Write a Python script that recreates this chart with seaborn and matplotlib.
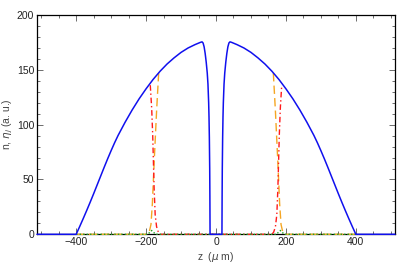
import matplotlib
matplotlib.use("Agg")
import matplotlib.pyplot as plt
import seaborn as sns
import pandas as pd
from matplotlib.ticker import MultipleLocator

# ---- data ----
z_n = [-512, -400, -390, -380, -370, -360, -350, -340, -330, -320, -310, -300, -290, -280,
       -260, -240, -220, -200, -180, -160, -140, -120, -100, -80, -60, -45, -40,
       -37, -34, -31, -28, -25, -23, -21, -20, -19, -18, -17.5, -17,
       17, 17.5, 18, 19, 20, 21, 23, 25, 28, 31, 34, 37,
       40, 45, 60, 80, 100, 120, 140, 160, 180, 200, 220, 240, 260,
       280, 290, 300, 310, 320, 330, 340, 350, 360, 370, 380, 390, 400, 512]
n_tot = [0, 0, 7, 14.2, 21.6, 29.2, 37, 45, 53, 61, 68.8, 76.3, 83.5, 90.2,
         102.2, 113.3, 123.5, 132.7, 141.2, 148.7, 155.3, 160.9, 165.9, 169.9, 173, 175, 175.5,
         174.5, 171, 165, 157, 147, 137, 120, 107, 88, 60, 35, 0,
         0, 35, 60, 88, 107, 120, 137, 147, 157, 165, 171, 174.5,
         175.5, 175, 173, 169.9, 165.9, 160.9, 155.3, 148.7, 141.2, 132.7, 123.5, 113.3, 102.2,
         90.2, 83.5, 76.3, 68.8, 61, 53, 45, 37, 29.2, 21.6, 14.2, 7, 0, 0]

z_red = [-188, -184, -181, -179, -177, -174, -170, -165, -160,
         160, 165, 170, 174, 177, 179, 181, 184, 188]
n_red = [136, 115, 90, 66, 42, 18, 7, 2, 0,
         0, 2, 7, 18, 42, 66, 90, 115, 136]

z_orange_left = [-400, -198, -191, -186, -182, -177, -170, -164]
n_orange_left = [0, 0, 2, 9, 28, 65, 112, 147]
z_orange_right = [164, 170, 177, 182, 186, 191, 198, 400]
n_orange_right = [147, 112, 65, 28, 9, 2, 0, 0]

z_green = [-400, -195, -189, -184, -179, -173, 173, 179, 184, 189, 195, 400]
n_green = [0, 0, 2, 3.5, 2, 0, 0, 2, 3.5, 2, 0, 0]

xticks = [-400, -200, 0, 200, 400]
yticks = [0, 50, 100, 150, 200]

# ---- figure ----
sns.set_style("ticks")
plt.rcParams['font.family'] = ['Liberation Sans', 'DejaVu Sans']
plt.rcParams['mathtext.fontset'] = 'dejavusans'

fig = plt.figure(figsize=(4.09, 2.63), dpi=100)
ax = fig.add_axes([37 / 409, 1 - 234.3 / 263, (395 - 37) / 409, (234.3 - 15) / 263])

df_o = pd.DataFrame({
    "z": z_orange_left + z_orange_right,
    "n": n_orange_left + n_orange_right,
    "part": ["L"] * len(z_orange_left) + ["R"] * len(z_orange_right),
})

sns.lineplot(data=df_o, x="z", y="n", units="part", estimator=None, sort=False, ax=ax,
             color="#f5a623", lw=1.0, linestyle=(0, (6, 3)), clip_on=False, zorder=3)
sns.lineplot(x=z_red, y=n_red, ax=ax, color="#ff1a1a", lw=1.0,
             linestyle=(0, (4, 2, 1, 2)), estimator=None, sort=False, clip_on=False, zorder=3)
sns.lineplot(x=z_green, y=n_green, ax=ax, color="#1fa31f", lw=1.0,
             linestyle=(0, (1, 1.5)), estimator=None, sort=False, clip_on=False, zorder=3.5)
sns.lineplot(x=z_n, y=n_tot, ax=ax, color="#1010ee", lw=1.1,
             estimator=None, sort=False, clip_on=False, zorder=4)

ax.set_xlim(-512, 512)
ax.set_ylim(0, 200)
ax.set_xticks(xticks)
ax.set_yticks(yticks)
ax.set_xticklabels(["\u2212400", "\u2212200", "0", "200", "400"])
ax.xaxis.set_minor_locator(MultipleLocator(50))
ax.yaxis.set_minor_locator(MultipleLocator(10))
ax.tick_params(which="both", direction="in", top=True, right=True,
               labelsize=7.5, labelcolor="#222222", color="#555555", width=0.6, pad=2)
ax.tick_params(which="major", length=4)
ax.tick_params(which="minor", length=2)
for s in ax.spines.values():
    s.set_linewidth(0.9)
    s.set_color("black")

ax.set_xlabel(r"z  ($\mu$ m)", fontsize=7.5, color="#444444", labelpad=2)
ax.set_ylabel("")
fig.text(8 / 409, 1 - 124.6 / 263, r"n, $\eta_j$ (a. u.)", fontsize=7.5, color="#444444",
         rotation=90, ha="center", va="center")

fig.savefig("out.png", dpi=100)
